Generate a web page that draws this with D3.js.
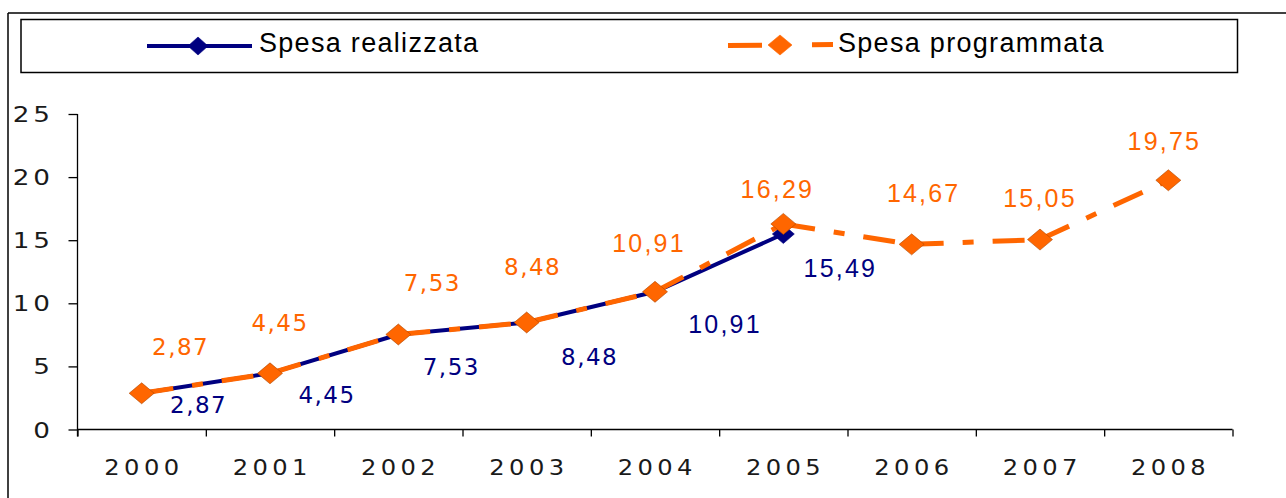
<!DOCTYPE html>
<html>
<head>
<meta charset="utf-8">
<script src="https://cdn.jsdelivr.net/npm/d3@7"></script>
<style>
  html, body { margin: 0; padding: 0; background: #fff; }
  svg { display: block; }
</style>
</head>
<body>
<svg id="chart" width="1286" height="498"></svg>
<script>
// ---- data ----
const years = ["2000", "2001", "2002", "2003", "2004", "2005", "2006", "2007", "2008"];
const realizzata = [2.87, 4.45, 7.53, 8.48, 10.91, 15.49];
const programmata = [2.87, 4.45, 7.53, 8.48, 10.91, 16.29, 14.67, 15.05, 19.75];
const yTicks = [0, 5, 10, 15, 20, 25];
const seriesNames = ["Spesa realizzata", "Spesa programmata"];

// ---- label nudges (layout only) ----
const progDx = [39, 10, 34, 6, -6, -6, 12, 0, -4];
const progDy = [-38, -42, -43, -47, -40, -26, -42, -33, -30];
const realDx = [57, 57, 53, 63, 70, 57];
const realDy = [20, 30, 41, 43, 41, 43];

const W = 1286, H = 498;
const NAVY = "#000080", ORANGE = "#FF6600";
const svg = d3.select("#chart");

const x0 = 77.5, x1 = 1232.5, yTop = 114, yBot = 429.5;
const x = d3.scaleBand().domain(years).range([x0, x1]).padding(0);
const xEdge = d3.scaleLinear().domain([0, years.length]).range([x0, x1]);
const y = d3.scaleLinear().domain([0, 25]).range([yBot, yTop]);
const cx = d => x(d) + x.bandwidth() / 2;

const fmt = v => d3.format(".2f")(v).replace(".", ",");

// ---- outer frame ----
svg.append("line").attr("x1", 8).attr("x2", W).attr("y1", 13).attr("y2", 13)
  .attr("stroke", "#000").attr("stroke-width", 1.5);
svg.append("line").attr("x1", 8).attr("x2", 8).attr("y1", 13).attr("y2", H)
  .attr("stroke", "#000").attr("stroke-width", 1.5);

// ---- legend ----
svg.append("rect").attr("x", 21).attr("y", 19.5).attr("width", 1216.5).attr("height", 53)
  .attr("fill", "none").attr("stroke", "#000").attr("stroke-width", 1.5);

function diamond(g, px, py, w, h, fill, stroke) {
  g.append("path")
    .attr("d", `M${px},${py - h / 2}L${px + w / 2},${py}L${px},${py + h / 2}L${px - w / 2},${py}Z`)
    .attr("fill", fill).attr("stroke", stroke).attr("stroke-width", 0.6);
}

const leg = svg.append("g");
leg.append("line").attr("x1", 147).attr("x2", 252).attr("y1", 46).attr("y2", 46)
  .attr("stroke", NAVY).attr("stroke-width", 4);
diamond(leg, 198, 46, 20, 18, NAVY, NAVY);
leg.append("text").attr("x", 259).attr("y", 52).text(seriesNames[0])
  .attr("font-family", "Liberation Sans, Arial, sans-serif").attr("font-size", 27)
  .attr("letter-spacing", 1.3).attr("fill", "#000");

leg.append("line").attr("x1", 728).attr("x2", 833).attr("y1", 45.5).attr("y2", 44.5)
  .attr("stroke", ORANGE).attr("stroke-width", 5).attr("stroke-dasharray", "34,50,21");
diamond(leg, 780, 45, 24, 20, ORANGE, ORANGE);
leg.append("text").attr("x", 838).attr("y", 52).text(seriesNames[1])
  .attr("font-family", "Liberation Sans, Arial, sans-serif").attr("font-size", 27)
  .attr("letter-spacing", 1.3).attr("fill", "#000");

// ---- axes ----
const ySx = 1.25, ySp = 3;
const yAxis = d3.axisLeft(y).tickValues(yTicks).tickSize(9).tickFormat(d => d);
const gy = svg.append("g").attr("transform", `translate(${x0},0)`).call(yAxis);
gy.select(".domain").attr("stroke", "#000").attr("stroke-width", 1.3)
  .attr("d", `M0,${yTop}V${yBot + 7}`);
gy.selectAll(".tick line").attr("stroke", "#000").attr("stroke-width", 1.3);
gy.selectAll(".tick text")
  .attr("font-family", "DejaVu Sans, Verdana, sans-serif").attr("font-size", 21)
  .attr("fill", "#1a1a1a").attr("letter-spacing", ySp)
  .attr("x", -(27.5 - ySp * ySx) / ySx).attr("dy", null).attr("y", 7.5)
  .attr("transform", `scale(${ySx},1)`);

const xAxisTicks = d3.axisBottom(xEdge).tickValues(d3.range(years.length + 1)).tickSize(7).tickFormat("");
const gx = svg.append("g").attr("transform", `translate(0,${yBot})`).call(xAxisTicks);
gx.select(".domain").attr("stroke", "#000").attr("stroke-width", 1.3).attr("d", `M${x0},0H${x1}`);
gx.selectAll(".tick line").attr("stroke", "#000").attr("stroke-width", 1.3);

const xLabels = d3.axisBottom(x).tickSize(0).tickPadding(0);
const gxl = svg.append("g").attr("transform", `translate(0,${yBot})`).call(xLabels);
gxl.select(".domain").remove();
gxl.selectAll(".tick text")
  .attr("font-family", "DejaVu Sans, Verdana, sans-serif").attr("font-size", 22)
  .attr("fill", "#1a1a1a").attr("dy", null).attr("y", 45.5)
  .attr("letter-spacing", 4)
  .attr("transform", "scale(1.1,1)")
  .attr("x", 2);

// ---- series ----
const line = d3.line().x(d => cx(d.year)).y(d => y(d.v));
const realPts = realizzata.map((v, i) => ({ year: years[i], v, i }));
const progPts = programmata.map((v, i) => ({ year: years[i], v, i }));

svg.append("path").datum(realPts).attr("d", line)
  .attr("fill", "none").attr("stroke", NAVY).attr("stroke-width", 4).attr("stroke-linejoin", "round");
realPts.forEach(p => diamond(svg, cx(p.year), y(p.v), 22, 19, NAVY, NAVY));

const segs = d3.pairs(progPts);
svg.append("g").selectAll("path").data(segs).join("path")
  .attr("d", d => line(d))
  .attr("fill", "none").attr("stroke", ORANGE).attr("stroke-width", 5)
  .attr("stroke-dasharray", "32,19,11,19");
progPts.forEach(p => diamond(svg, cx(p.year), y(p.v), 25, 21, ORANGE, "#b04800"));

// ---- data labels ----
function labelFont(sel, i) {
  if (i < 4) {
    sel.attr("font-family", "DejaVu Sans, Verdana, sans-serif").attr("font-size", 23).attr("letter-spacing", 1.5);
  } else {
    sel.attr("font-family", "'Liberation Sans', Arial, sans-serif").attr("font-size", 25).attr("letter-spacing", 2.2);
  }
}
progPts.forEach(p => {
  const t = svg.append("text").attr("x", cx(p.year) + progDx[p.i]).attr("y", y(p.v) + progDy[p.i])
    .attr("text-anchor", "middle").attr("fill", ORANGE).text(fmt(p.v));
  labelFont(t, p.i);
});
realPts.forEach(p => {
  const t = svg.append("text").attr("x", cx(p.year) + realDx[p.i]).attr("y", y(p.v) + realDy[p.i])
    .attr("text-anchor", "middle").attr("fill", NAVY).text(fmt(p.v));
  labelFont(t, p.i);
});
</script>
</body>
</html>
